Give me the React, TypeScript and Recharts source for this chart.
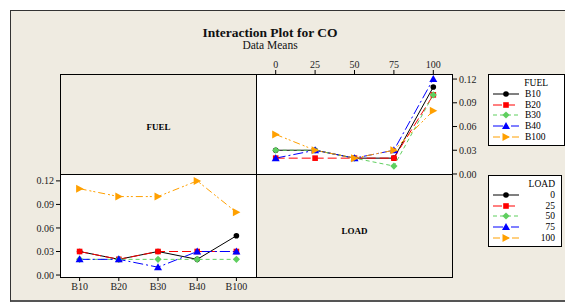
import { LineChart, Line, XAxis, YAxis } from 'recharts';

const loads = [0, 25, 50, 75, 100];
const fuels = ['B10', 'B20', 'B30', 'B40', 'B100'];
const loadNames = ['0', '25', '50', '75', '100'];

// CO data means, one array per fuel, indexed by load
const coB10 = [0.03, 0.03, 0.02, 0.02, 0.11];
const coB20 = [0.02, 0.02, 0.02, 0.02, 0.10];
const coB30 = [0.03, 0.03, 0.02, 0.01, 0.10];
const coB40 = [0.02, 0.03, 0.02, 0.03, 0.12];
const coB100 = [0.05, 0.03, 0.02, 0.03, 0.08];

const yTicks = [0, 0.03, 0.06, 0.09, 0.12];

const byFuel = [coB10, coB20, coB30, coB40, coB100];

const COLORS = ['#000000', '#ff0000', '#5fcf5f', '#0000ff', '#ffa000'];
const DASHES = ['', '9 4', '4 3', '10 3 2 3', '7 3 2 2 2 3'];
const SHAPES = ['circle', 'square', 'diamond', 'triangle', 'right'];

const BG = '#efebe1';
const FONT = '"Liberation Serif", "DejaVu Serif", serif';

function Marker({ x, y, shape, color }: { x: number; y: number; shape: string; color: string }) {
  if (shape === 'circle') return <circle cx={x} cy={y} r={2.8} fill={color} />;
  if (shape === 'square') return <rect x={x - 2.8} y={y - 2.8} width={5.6} height={5.6} fill={color} />;
  if (shape === 'diamond')
    return <polygon points={`${x},${y - 3.6} ${x + 3.6},${y} ${x},${y + 3.6} ${x - 3.6},${y}`} fill={color} />;
  if (shape === 'triangle')
    return <polygon points={`${x},${y - 4} ${x + 4},${y + 3} ${x - 4},${y + 3}`} fill={color} />;
  return <polygon points={`${x - 3.5},${y - 4} ${x + 4},${y} ${x - 3.5},${y + 4}`} fill={color} />;
}

const dotFor = (i: number) => (p: any) => {
  if (p.cx == null || p.cy == null) return <g key={p.key} />;
  return (
    <g key={p.key}>
      <Marker x={p.cx} y={p.cy} shape={SHAPES[i]} color={COLORS[i]} />
    </g>
  );
};

// top-right panel: x = LOAD, series = FUEL
const loadRows = loads.map((l, j) => {
  const row: Record<string, number> = { load: l };
  fuels.forEach((f, i) => (row[f] = byFuel[i][j]));
  return row;
});

// bottom-left panel: x = FUEL, series = LOAD
const fuelRows = fuels.map((f, i) => {
  const row: Record<string, number> = { idx: i };
  loadNames.forEach((ln, j) => (row['L' + ln] = byFuel[i][j]));
  return row;
});

const tickStyle = { fill: '#222', fontSize: 10, fontFamily: FONT };

function Box({ x, y, w, h, bg, children }: any) {
  return (
    <div
      style={{
        position: 'absolute',
        left: x,
        top: y,
        width: w,
        height: h,
        background: bg,
        border: '1px solid #000',
        boxSizing: 'border-box',
      }}
    >
      {children}
    </div>
  );
}

function LegendBox({ x, y, w, title, names, alignRight }: any) {
  return (
    <div
      style={{
        position: 'absolute',
        left: x,
        top: y,
        width: w,
        background: '#fff',
        border: '1px solid #000',
        boxSizing: 'border-box',
        fontFamily: FONT,
        fontSize: 9.5,
        padding: '3px 6px 3px 3px',
      }}
    >
      <div style={{ textAlign: 'right', height: 11, lineHeight: '11px', paddingRight: alignRight ? 0 : 10 }}>{title}</div>
      {names.map((n: string, i: number) => (
        <div key={n} style={{ display: 'flex', alignItems: 'center', height: 10.6 }}>
          <svg width={28} height={10} style={{ flex: 'none' }}>
            <line x1={1} y1={5} x2={27} y2={5} stroke={COLORS[i]} strokeWidth={1} strokeDasharray={DASHES[i]} />
            <Marker x={14} y={5} shape={SHAPES[i]} color={COLORS[i]} />
          </svg>
          <span style={{ flex: 1, textAlign: alignRight ? 'right' : 'left', paddingLeft: alignRight ? 0 : 5 }}>{n}</span>
        </div>
      ))}
    </div>
  );
}

export default function App() {
  return (
    <div style={{ position: 'absolute', left: 0, top: 0, width: 565, height: 308, background: '#fff', overflow: 'hidden', fontFamily: FONT }}>
      <div
        style={{
          position: 'absolute',
          left: 10,
          top: 10,
          width: 570,
          height: 292,
          background: BG,
          borderLeft: '1px solid #333',
          borderTop: '1px solid #333',
          borderBottom: '2px solid #555',
          boxSizing: 'border-box',
        }}
      />
      <div style={{ position: 'absolute', left: 170, width: 200, top: 25, textAlign: 'center', fontWeight: 'bold', fontSize: 13.5, color: '#111' }}>
        Interaction Plot for CO
      </div>
      <div style={{ position: 'absolute', left: 170, width: 200, top: 39, textAlign: 'center', fontSize: 11.5, color: '#111' }}>
        Data Means
      </div>

      <Box x={60} y={74} w={197} h={101} bg={BG}>
        <div style={{ position: 'absolute', width: '100%', top: 47, textAlign: 'center', fontWeight: 'bold', fontSize: 9 }}>FUEL</div>
      </Box>
      <Box x={256} y={74} w={197} h={101} bg="#fff" />
      <Box x={60} y={174} w={197} h={104} bg="#fff" />
      <Box x={256} y={174} w={197} h={104} bg={BG}>
        <div style={{ position: 'absolute', width: '100%', top: 51, textAlign: 'center', fontWeight: 'bold', fontSize: 9 }}>LOAD</div>
      </Box>

      <div style={{ position: 'absolute', left: 256, top: 50 }}>
        <LineChart width={237} height={133} data={loadRows} margin={{ top: 0, right: 0, bottom: 8, left: 0 }}>
          <XAxis
            dataKey="load"
            type="number"
            orientation="top"
            domain={[-12.5, 112.5]}
            ticks={loads}
            height={24}
            axisLine={false}
            tickSize={4}
            tick={tickStyle}
            stroke="#000"
          />
          <YAxis
            type="number"
            orientation="right"
            domain={[-0.0013, 0.1264]}
            ticks={yTicks}
            width={40}
            axisLine={false}
            tickSize={4}
            tick={tickStyle}
            stroke="#000"
            tickFormatter={(v: number) => v.toFixed(2)}
          />
          {fuels.map((f, i) => (
            <Line
              key={f}
              dataKey={f}
              stroke={COLORS[i]}
              strokeWidth={1}
              strokeDasharray={DASHES[i] || undefined}
              dot={dotFor(i)}
              isAnimationActive={false}
            />
          ))}
        </LineChart>
      </div>

      <div style={{ position: 'absolute', left: 20, top: 175 }}>
        <LineChart width={236} height={126} data={fuelRows} margin={{ top: 0, right: 0, bottom: 0, left: 0 }}>
          <XAxis
            dataKey="idx"
            type="number"
            domain={[-0.5, 4.5]}
            ticks={[0, 1, 2, 3, 4]}
            tickFormatter={(v: number) => fuels[v]}
            height={24}
            axisLine={false}
            tickSize={4}
            tick={tickStyle}
            stroke="#000"
          />
          <YAxis
            type="number"
            domain={[-0.0025, 0.1275]}
            ticks={yTicks}
            width={40}
            axisLine={false}
            tickSize={4}
            tick={tickStyle}
            stroke="#000"
            tickFormatter={(v: number) => v.toFixed(2)}
          />
          {loadNames.map((ln, i) => (
            <Line
              key={ln}
              dataKey={'L' + ln}
              stroke={COLORS[i]}
              strokeWidth={1}
              strokeDasharray={DASHES[i] || undefined}
              dot={dotFor(i)}
              isAnimationActive={false}
            />
          ))}
        </LineChart>
      </div>

      <LegendBox x={488} y={74} w={77} title="FUEL" names={fuels} />
      <LegendBox x={488} y={175} w={74} title="LOAD" names={loadNames} alignRight />
    </div>
  );
}
